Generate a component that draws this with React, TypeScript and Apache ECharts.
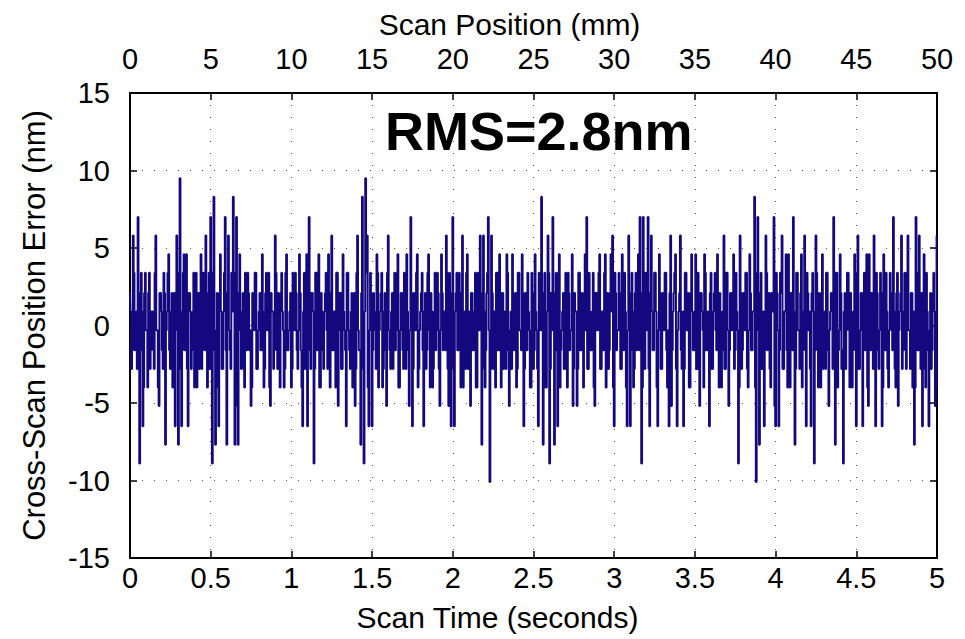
import React, { useEffect, useRef } from "react";
import * as echarts from "echarts";

// Cross-scan position error samples (nm) at t = 0, 0.01, 0.02 ... 5 s
const ERROR_NM: number[] = [
  2.1, -2.8, 5.8, -1.6, 0.9, 7.0, -8.9, 3.4, -6.5, 2.1, -0.3, -4.0, 3.4, -1.6, 0.9, -2.8, 5.8, -0.3, -5.2, 2.1,
  -1.6, 3.4, -7.7, 0.9, 4.6, -2.8, 2.1, -0.3, -6.5, 5.8, -7.7, 9.5, -6.5, 3.4, -1.6, 4.6, -6.5, 2.1, -2.8, 0.9,
  -4.0, 3.4, -0.3, -2.8, 4.6, -1.6, 0.9, 5.8, -4.0, 3.4, 7.0, -8.9, 8.3, -7.7, 2.1, -6.5, 4.6, -2.8, 0.9, 7.0,
  -7.7, 5.8, -1.6, 3.4, 8.3, -7.7, 7.0, -7.7, 4.6, -2.8, 2.1, -4.0, 0.9, 3.4, -1.6, -5.2, 2.1, -0.3, 3.4, -2.8,
  0.9, -1.6, 4.6, -4.0, 2.1, -0.3, 3.4, -5.2, 0.9, -2.8, 5.8, -1.6, 2.1, -4.0, 3.4, -0.3, -2.8, 4.6, -1.6, 0.9,
  -4.0, 3.4, -0.3, 2.1, -2.8, 4.6, -1.6, -6.5, 3.4, 0.9, -6.5, 7.0, -2.8, 2.1, -8.9, 3.4, -1.6, 4.6, -4.0, 0.9,
  -2.8, 2.1, -0.3, 4.6, -4.0, 5.8, -1.6, 0.9, 3.4, -5.2, 2.1, -2.8, 4.6, -0.3, -6.5, 3.4, -1.6, 0.9, -4.0, 2.1,
  -2.8, 5.8, -1.6, -7.7, 8.3, -8.9, 9.5, 5.8, -6.5, 3.4, -6.5, 2.1, -0.3, 4.6, -4.0, 0.9, 3.4, -2.8, 2.1, -5.2,
  5.8, -1.6, 0.9, -2.8, 3.4, -0.3, 4.6, -4.0, 2.1, -1.6, 3.4, -2.8, 0.9, -5.2, 7.0, -6.5, 2.1, -0.3, 4.6, -2.8,
  0.9, 3.4, -6.5, 2.1, -1.6, 4.6, -4.0, 0.9, -2.8, 3.4, -0.3, 2.1, -5.2, 4.6, -1.6, 0.9, 5.8, -2.8, 3.4, -6.5,
  7.0, -6.5, 2.1, -1.6, 3.4, -4.0, 5.8, -0.3, -2.8, 4.6, 0.9, -5.2, 2.1, -1.6, 3.4, -4.0, 0.9, 5.8, -7.7, 5.8,
  -4.0, 2.1, 7.0, -10.1, 5.8, -2.8, 0.9, 3.4, -1.6, 4.6, -4.0, 2.1, -0.3, -2.8, 3.4, -5.2, 0.9, 4.6, -1.6, 2.1,
  -2.8, 3.4, -0.3, 4.6, -6.5, 2.1, -1.6, 0.9, -4.0, 3.4, -2.8, 4.6, -0.3, -6.5, 2.1, 8.3, -7.7, 3.4, -4.0, 5.8,
  -8.9, 2.1, 7.0, -7.7, 3.4, -6.5, 4.6, -1.6, 0.9, -2.8, 3.4, -4.0, 2.1, -0.3, 4.6, -2.8, 0.9, -5.2, 3.4, -1.6,
  2.1, -4.0, 4.6, 7.0, -2.8, 0.9, -1.6, 3.4, -5.2, 2.1, -0.3, 4.6, -2.8, 0.9, 3.4, -4.0, 2.1, -1.6, 4.6, 5.8,
  -6.5, 2.1, -0.3, 3.4, -2.8, 4.6, -1.6, 0.9, -6.5, 5.8, -6.5, 3.4, -4.0, 2.1, -1.6, 4.6, 7.0, -8.9, 7.0, -2.8,
  2.1, 7.0, -6.5, 5.8, -1.6, 3.4, 0.9, -6.5, 4.6, -2.8, 2.1, -0.3, 3.4, -4.0, -6.5, 5.8, -1.6, 2.1, 4.6, -6.5,
  0.9, 5.8, -2.8, -6.5, 3.4, -0.3, 2.1, -4.0, 4.6, -1.6, 0.9, -2.8, 3.4, -5.2, 2.1, -0.3, 4.6, -1.6, 0.9, -6.5,
  3.4, -2.8, 2.1, -0.3, 4.6, -4.0, 0.9, -1.6, 5.8, -2.8, 3.4, -5.2, 2.1, -0.3, 4.6, -1.6, 0.9, -8.9, 5.8, -2.8,
  2.1, -0.3, 3.4, -4.0, 4.6, -1.6, 0.9, 8.3, -10.1, 7.0, -7.7, 3.4, -2.8, -6.5, 5.8, -1.6, 2.1, -4.0, 0.9, 7.0,
  -6.5, 2.1, -6.5, 3.4, 5.8, -2.8, 0.9, -1.6, 4.6, -4.0, 2.1, 7.0, -7.7, 3.4, -0.3, -2.8, 4.6, -1.6, 5.8, -6.5,
  2.1, 0.9, -6.5, 3.4, -8.9, 5.8, -1.6, 2.1, -4.0, 4.6, -0.3, -2.8, 3.4, -5.2, 0.9, 2.1, 7.0, -7.7, 3.4, -1.6,
  4.6, -2.8, -8.9, 2.1, -0.3, 3.4, -4.0, 0.9, -1.6, 4.6, -6.5, 5.8, -2.8, 2.1, -6.5, 3.4, -0.3, -4.0, 4.6, -1.6,
  0.9, 5.8, -6.5, 2.1, -2.8, 3.4, -6.5, 4.6, -1.6, 0.9, -4.0, 3.4, -0.3, 7.0, -2.8, 2.1, -5.2, 0.9, 5.8, -1.6,
  3.4, -2.8, 5.8, -0.3, 2.1, -4.0, -7.7, 7.0, -1.6, 5.8, -2.8, -6.5, 4.6, -4.0, 0.9, -6.5, 2.1, -1.6, 3.4, -5.2,
  5.8,
];

// Samples in between (nm) at t = 0.005, 0.015, 0.025 ... 4.995 s
const ERROR_NM_MID: number[] = [
  0.9, -1.6, 3.4, -0.3, -2.8, 2.1, -1.6, 0.9, -4.0, 3.4, -0.3, 2.1, -2.8, 0.9, -1.6, 3.4, -0.3, -4.0, 2.1, 0.9,
  -2.8, 2.1, -0.3, 3.4, -1.6, 0.9, -4.0, 2.1, -0.3, 3.4, -2.8, 0.9, -1.6, 4.6, -0.3, -2.8, 2.1, 0.9, -1.6, 3.4,
  -0.3, -4.0, 2.1, 0.9, -2.8, 3.4, -1.6, -0.3, 2.1, -2.8, 0.9, 3.4, -1.6, -0.3, -4.0, 2.1, 0.9, -2.8, 3.4, -1.6,
  2.1, -0.3, -2.8, 0.9, 3.4, -1.6, -5.2, 2.1, -0.3, 0.9, -2.8, 3.4, -1.6, 2.1, -0.3, -4.0, 0.9, 3.4, -2.8, -0.3,
  2.1, -1.6, 0.9, -2.8, 3.4, -0.3, -4.0, 2.1, 0.9, -1.6, 3.4, -2.8, -0.3, 2.1, 0.9, -4.0, 3.4, -1.6, -0.3, 2.1,
  -2.8, 0.9, 3.4, -1.6, -0.3, 2.1, -4.0, 0.9, -2.8, 4.6, -0.3, -1.6, 2.1, 0.9, -2.8, 3.4, -0.3, -4.0, 2.1, -1.6,
  0.9, 3.4, -2.8, -0.3, 2.1, -1.6, 0.9, -4.0, 3.4, -0.3, 2.1, -2.8, 0.9, -1.6, 3.4, -0.3, -2.8, 2.1, 0.9, -5.2,
  3.4, -0.3, -1.6, 2.1, -2.8, 0.9, 3.4, -4.0, -0.3, 2.1, -1.6, 0.9, -2.8, 3.4, -0.3, 2.1, -4.0, 0.9, -1.6, 3.4,
  -0.3, -2.8, 2.1, 0.9, -1.6, 3.4, -4.0, -0.3, 2.1, -2.8, 0.9, 4.6, -1.6, -0.3, 2.1, -2.8, 0.9, 3.4, -4.0, -0.3,
  2.1, -1.6, 0.9, -2.8, 3.4, -0.3, 2.1, -4.0, 0.9, -1.6, 3.4, -2.8, -0.3, 2.1, 0.9, -1.6, 3.4, -5.2, -0.3, 2.1,
  -2.8, 0.9, 3.4, -1.6, -0.3, 2.1, -4.0, 0.9, 3.4, -2.8, -0.3, 2.1, -1.6, 0.9, -4.0, 3.4, -0.3, 2.1, -2.8, 0.9,
  -1.6, 3.4, -0.3, -2.8, 2.1, 0.9, -4.0, 3.4, -1.6, -0.3, 2.1, -2.8, 0.9, 4.6, -1.6, -0.3, -2.8, 2.1, 0.9, -4.0,
  3.4, -0.3, -1.6, 2.1, -2.8, 0.9, 3.4, -0.3, -4.0, 2.1, -1.6, 0.9, -2.8, 3.4, -0.3, 2.1, -1.6, -4.0, 0.9, 3.4,
  -2.8, -0.3, 2.1, 0.9, -1.6, 3.4, -4.0, -0.3, 2.1, -2.8, 0.9, 3.4, -1.6, -0.3, -5.2, 2.1, 0.9, -2.8, 3.4, -1.6,
  0.9, 2.1, -0.3, -2.8, 3.4, -1.6, 0.9, -4.0, 2.1, -0.3, 3.4, -2.8, 0.9, -1.6, 4.6, -0.3, -2.8, 2.1, 0.9, -4.0,
  3.4, -1.6, -0.3, 2.1, -2.8, 0.9, 3.4, -4.0, -0.3, 2.1, -1.6, 0.9, -2.8, 3.4, -0.3, -1.6, 2.1, -4.0, 0.9, 3.4,
  -0.3, -2.8, 2.1, 0.9, -1.6, 3.4, -4.0, -0.3, 2.1, -2.8, 0.9, 3.4, -1.6, -0.3, 2.1, -5.2, 0.9, 3.4, -2.8, -0.3,
  2.1, -1.6, 0.9, -2.8, 3.4, -0.3, -4.0, 2.1, 0.9, -1.6, 4.6, -2.8, -0.3, 2.1, 0.9, -4.0, 3.4, -1.6, -0.3, 2.1,
  -2.8, 0.9, 3.4, -1.6, -0.3, 2.1, -4.0, 0.9, -2.8, 3.4, -0.3, -1.6, 2.1, 0.9, -2.8, 3.4, -0.3, -4.0, 2.1, -1.6,
  0.9, 3.4, -2.8, -0.3, 2.1, -1.6, 0.9, -4.0, 3.4, -0.3, 2.1, -2.8, 0.9, -1.6, 3.4, -0.3, -2.8, 2.1, 0.9, -5.2,
  3.4, -0.3, -1.6, 2.1, -2.8, 0.9, 4.6, -4.0, -0.3, 2.1, -1.6, 0.9, -2.8, 3.4, -0.3, 2.1, -4.0, 0.9, -1.6, 3.4,
  -0.3, -2.8, 2.1, 0.9, -1.6, 3.4, -4.0, -0.3, 2.1, -2.8, 0.9, 3.4, -1.6, -0.3, 2.1, -2.8, 0.9, 3.4, -4.0, -0.3,
  2.1, -1.6, 0.9, -2.8, 3.4, -0.3, 2.1, -4.0, 0.9, -1.6, 3.4, -2.8, -0.3, 2.1, 0.9, -1.6, 4.6, -5.2, -0.3, 2.1,
  -2.8, 0.9, 3.4, -1.6, -0.3, 2.1, -4.0, 0.9, 3.4, -2.8, -0.3, 2.1, -1.6, 0.9, -4.0, 3.4, -0.3, 2.1, -2.8, 0.9,
  -1.6, 3.4, -0.3, -2.8, 2.1, 0.9, -4.0, 3.4, -1.6, -0.3, 2.1, -2.8, 0.9, 3.4, -1.6, -0.3, -2.8, 2.1, 0.9, -4.0,
];

const SAMPLE_STEP_S = 0.01;
const TIME_RANGE_S = [0, 5];
const POSITION_RANGE_MM = [0, 50];
const ERROR_RANGE_NM = [-15, 15];
const ANNOTATION = "RMS=2.8nm";

const FONT = '"Liberation Sans", Arial, Helvetica, sans-serif';
const LINE_COLOR = "#14087f";

export default function App() {
  const ref = useRef<HTMLDivElement>(null);

  useEffect(() => {
    if (!ref.current) return;
    const chart = echarts.init(ref.current, undefined, { renderer: "svg" });

    const seriesData: number[][] = [];
    ERROR_NM.forEach((v, i) => {
      seriesData.push([+(i * SAMPLE_STEP_S).toFixed(3), v]);
      if (i < ERROR_NM_MID.length) {
        seriesData.push([+((i + 0.5) * SAMPLE_STEP_S).toFixed(3), ERROR_NM_MID[i]]);
      }
    });

    const dotted = {
      show: true,
      lineStyle: { color: "#555", width: 1, type: [1, 11] as number[] },
    };
    const axisLine = { show: true, onZero: false, lineStyle: { color: "#000", width: 2 } };
    const axisTick = { show: true, inside: true, length: 7, lineStyle: { color: "#000", width: 1.5 } };
    const label = { color: "#000", fontFamily: FONT, fontSize: 29 };
    const nameStyle = { color: "#000", fontFamily: FONT, fontSize: 30 };

    chart.setOption({
      animation: false,
      backgroundColor: "#fff",
      grid: { left: 130, right: 28, top: 93, bottom: 81, containLabel: false },
      xAxis: [
        {
          type: "value",
          position: "bottom",
          min: TIME_RANGE_S[0],
          max: TIME_RANGE_S[1],
          interval: 0.5,
          name: "Scan Time (seconds)",
          nameLocation: "middle",
          nameGap: 44,
          nameTextStyle: { ...nameStyle, padding: [0, 72, 0, 0] },
          axisLine,
          axisTick,
          axisLabel: { ...label, margin: 5 },
          splitLine: dotted,
        },
        {
          type: "value",
          position: "top",
          min: POSITION_RANGE_MM[0],
          max: POSITION_RANGE_MM[1],
          interval: 5,
          name: "Scan Position (mm)",
          nameLocation: "middle",
          nameGap: 52,
          nameTextStyle: { ...nameStyle, padding: [0, 48, 0, 0] },
          axisLine,
          axisTick,
          axisLabel: { ...label, margin: 20 },
          splitLine: { show: false },
        },
      ],
      yAxis: [
        {
          type: "value",
          position: "left",
          min: ERROR_RANGE_NM[0],
          max: ERROR_RANGE_NM[1],
          interval: 5,
          name: "Cross-Scan Position Error (nm)",
          nameLocation: "middle",
          nameRotate: 90,
          nameGap: 80,
          nameTextStyle: { ...nameStyle, fontSize: 31 },
          axisLine,
          axisTick,
          axisLabel: { ...label, margin: 20 },
          splitLine: dotted,
        },
        {
          type: "value",
          position: "right",
          min: ERROR_RANGE_NM[0],
          max: ERROR_RANGE_NM[1],
          interval: 5,
          axisLine,
          axisTick,
          axisLabel: { show: false },
          splitLine: { show: false },
        },
      ],
      graphic: [
        {
          type: "text",
          left: 385,
          top: 104,
          style: {
            text: ANNOTATION,
            font: `bold 54px ${FONT}`,
            fill: "#000",
          },
          z: 100,
        },
      ],
      series: [
        {
          type: "line",
          xAxisIndex: 0,
          yAxisIndex: 0,
          data: seriesData,
          step: "middle",
          showSymbol: false,
          symbol: "none",
          lineStyle: { color: LINE_COLOR, width: 2 },
          itemStyle: { color: LINE_COLOR },
        },
      ],
    });

    return () => chart.dispose();
  }, []);

  return (
    <div
      ref={ref}
      style={{ position: "fixed", left: 0, top: 0, width: 965, height: 639, background: "#fff" }}
    />
  );
}
